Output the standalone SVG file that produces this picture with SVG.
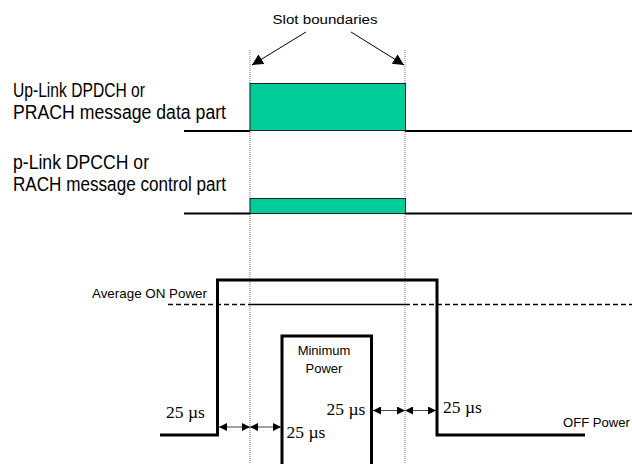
<svg xmlns="http://www.w3.org/2000/svg" width="632" height="464" viewBox="0 0 632 464">
<defs>
<style>
.lbl{font-family:"Liberation Sans",Arial,sans-serif;font-size:20px;fill:#000}
.sm{font-family:"Liberation Sans",Arial,sans-serif;font-size:13px;fill:#000}
.us{font-family:"Liberation Serif","Times New Roman",serif;font-size:17.5px;fill:#000}
.dot{stroke:#777;stroke-width:1;stroke-dasharray:1 1;fill:none}
.base{stroke:#000;stroke-width:2.2;fill:none}
.burst{fill:#00CC99;stroke:#222;stroke-width:1}
.pw{stroke:#000;stroke-width:3;fill:none}
.dim{stroke:#444;stroke-width:1;fill:none;marker-start:url(#ah);marker-end:url(#ah)}
.pt{stroke:#000;stroke-width:1;fill:none;marker-end:url(#big)}
</style>
<marker id="ah" viewBox="0 0 10 10" refX="10" refY="5" markerWidth="9" markerHeight="8" markerUnits="userSpaceOnUse" orient="auto-start-reverse">
<path d="M0,0 L10,5 L0,10 Z" fill="#000"/>
</marker>
<marker id="big" viewBox="0 0 10 10" refX="10" refY="5" markerWidth="13" markerHeight="11" markerUnits="userSpaceOnUse" orient="auto">
<path d="M0,0 L10,5 L0,10 Z" fill="#000"/>
</marker>
</defs>
<g id="slot-label">
<text class="sm" x="325" y="24" text-anchor="middle" textLength="105" lengthAdjust="spacingAndGlyphs">Slot boundaries</text>
</g>
<g id="slot-lines">
<line class="dot" x1="250" y1="50" x2="250" y2="464"/>
<line class="dot" x1="405" y1="50" x2="405" y2="464"/>
</g>
<g id="dpdch">
<text class="lbl" x="13" y="96.5" textLength="132" lengthAdjust="spacingAndGlyphs">Up-Link DPDCH or</text>
<text class="lbl" x="13" y="118.5" textLength="213" lengthAdjust="spacingAndGlyphs">PRACH message data part</text>
<rect class="burst" x="250" y="83.5" width="155.5" height="47"/>
<line class="base" x1="184" y1="131" x2="250" y2="131"/>
<line class="base" x1="405" y1="131" x2="632" y2="131"/>
</g>
<g id="dpcch">
<text class="lbl" x="13" y="168.5" textLength="136" lengthAdjust="spacingAndGlyphs">p-Link DPCCH or</text>
<text class="lbl" x="13" y="190.5" textLength="213" lengthAdjust="spacingAndGlyphs">RACH message control part</text>
<rect class="burst" x="250" y="198.5" width="155.5" height="15"/>
<line class="base" x1="184" y1="213.5" x2="250" y2="213.5"/>
<line class="base" x1="405" y1="213.5" x2="632" y2="213.5"/>
</g>
<g id="power">
<text class="sm" x="92" y="298" textLength="115" lengthAdjust="spacingAndGlyphs">Average ON Power</text>
<line x1="168" y1="304.5" x2="250" y2="304.5" stroke="#000" stroke-width="1.3" stroke-dasharray="5 3"/>
<line x1="250" y1="304.5" x2="405" y2="304.5" stroke="#000" stroke-width="1.3"/>
<line x1="405" y1="304.5" x2="632" y2="304.5" stroke="#000" stroke-width="1.3" stroke-dasharray="5 3"/>
<path class="pw" d="M160,435 H217.5 V280 H437 V435 H585"/>
<text class="sm" x="563" y="427" textLength="67" lengthAdjust="spacingAndGlyphs">OFF Power</text>
</g>
<g id="minimum">
<path class="pw" d="M282,464 V336 H371.5 V464"/>
<text class="sm" x="324" y="355" text-anchor="middle">Minimum</text>
<text class="sm" x="324" y="373" text-anchor="middle">Power</text>
</g>
<g id="timing">
<text class="us" x="166" y="418">25 µs</text>
<text class="us" x="286.5" y="438">25 µs</text>
<text class="us" x="326.5" y="415">25 µs</text>
<text class="us" x="443" y="413">25 µs</text>
</g>
<g id="connectors">
<line class="pt" x1="306" y1="32" x2="252" y2="65"/>
<line class="pt" x1="351" y1="32" x2="404" y2="65"/>
<line class="dim" x1="219" y1="427" x2="250" y2="427"/>
<line class="dim" x1="250" y1="427" x2="281" y2="427"/>
<line class="dim" x1="373" y1="410.5" x2="405" y2="410.5"/>
<line class="dim" x1="405" y1="410.5" x2="436" y2="410.5"/>
</g>
</svg>
